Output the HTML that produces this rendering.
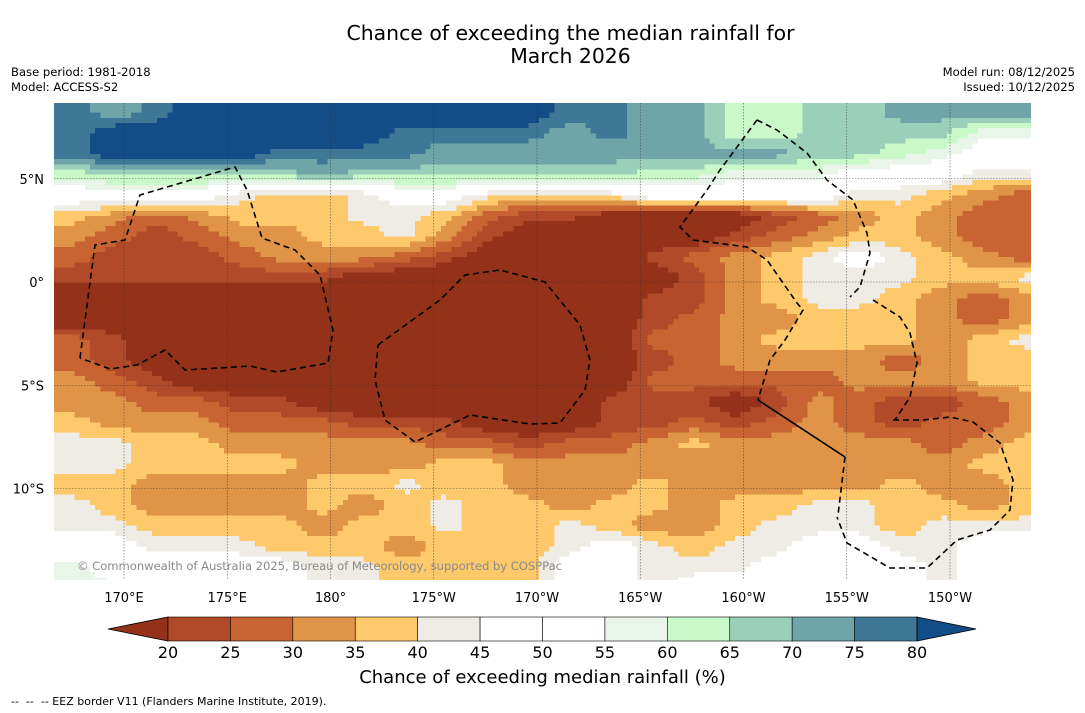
<!DOCTYPE html>
<html><head><meta charset="utf-8">
<style>
html,body{margin:0;padding:0;background:#fff;}
body{width:1085px;height:713px;position:relative;overflow:hidden;font-family:"DejaVu Sans","Liberation Sans",sans-serif;}
.t{position:absolute;color:#000;white-space:nowrap;}
</style></head>
<body>
<div class="t" style="left:0;width:1141px;top:22px;text-align:center;font-size:20.4px;line-height:23px;">Chance of exceeding the median rainfall for<br>March 2026</div>
<div class="t" style="left:11px;top:65px;font-size:11.6px;line-height:15px;">Base period: 1981-2018<br>Model: ACCESS-S2</div>
<div class="t" style="right:10px;top:65px;font-size:11.6px;line-height:15px;text-align:right;">Model run: 08/12/2025<br>Issued: 10/12/2025</div>
<svg id="chart" width="1085" height="713" style="position:absolute;left:0;top:0" xmlns="http://www.w3.org/2000/svg"></svg>
<div class="t" style="left:0;width:1085px;text-align:center;top:667px;font-size:18px;">Chance of exceeding median rainfall (%)</div>
<div class="t" style="left:11px;top:695px;font-size:11px;">--&nbsp; --&nbsp; -- EEZ border V11 (Flanders Marine Institute, 2019).</div>
<script>
// ---- data ----
const lonStart = 166.6;     // west edge of grid (deg E)
const lonStep = 2;          // deg per column
const latStart = 8.7;       // north edge of grid
const latStep = 1;          // deg per row
const lonTicks = [170,175,180,185,190,195,200,205,210];
const lonTickLabels = ["170°E","175°E","180°","175°W","170°W","165°W","160°W","155°W","150°W"];
const latTicks = [5,0,-5,-10];
const latTickLabels = ["5°N","0°","5°S","10°S"];
const levels = [20,25,30,35,40,45,50,55,60,65,70,75,80];
const colors = ["#933119","#b04a28","#c86432","#e09447","#fdc96b","#efebe5","#ffffff","#ffffff","#e9f5e9","#c9f9c9","#9ad0b9","#6fa4a8","#3f7897","#124d87"];
const cbLabels = ["20","25","30","35","40","45","50","55","60","65","70","75","80"];
const r00=[77,72,77,85,85,85,85,85,85,85,85,85,77,77,72,72,62,62,67,67,72,72,72,72];
const r01=[77,85,85,85,85,85,85,85,77,77,77,77,72,77,72,72,62,62,67,67,67,67,57,57];
const r02=[77,85,85,85,85,77,77,77,77,72,72,72,72,72,72,72,72,72,67,67,62,57,50,50];
const r03=[62,67,67,67,67,67,72,67,67,67,67,67,67,67,62,62,57,57,57,50,50,50,42,42];
const r04=[50,50,50,50,42,37,37,42,50,50,42,37,37,42,50,50,50,50,50,42,42,37,32,27];
const r05=[37,32,27,32,37,37,37,42,42,37,27,22,22,15,15,15,15,22,27,32,37,32,27,27];
const r06=[32,27,22,27,32,32,37,37,42,32,22,15,15,15,15,15,22,27,32,37,37,32,27,27];
const r07=[27,22,22,22,27,32,32,32,27,22,15,15,15,15,22,27,32,37,42,50,42,37,32,27];
const r08=[22,22,22,22,22,22,22,15,15,15,15,15,15,15,15,22,32,37,42,42,42,37,37,42];
const r09=[15,15,15,15,15,15,15,15,15,15,15,15,15,15,22,22,32,37,42,42,37,32,27,32];
const r10=[15,15,15,15,15,15,15,15,15,15,15,15,15,15,22,27,32,32,37,37,37,32,27,32];
const r11=[27,22,15,15,15,15,15,15,15,15,15,15,15,15,27,27,32,37,37,37,37,32,37,42];
const r12=[27,22,15,15,15,15,15,15,15,15,15,15,15,15,22,27,32,32,32,32,27,32,37,37];
const r13=[32,27,22,15,15,15,15,15,15,15,15,15,15,15,27,27,27,27,27,32,32,32,37,37];
const r14=[32,32,27,27,22,22,15,15,15,15,15,15,15,22,22,22,15,22,32,27,22,22,27,32];
const r15=[37,32,32,32,27,27,27,22,22,22,15,15,15,22,22,27,22,27,32,27,22,27,27,32];
const r16=[42,42,37,37,32,32,32,32,32,27,27,22,27,27,32,37,32,32,32,32,32,27,32,37];
const r17=[42,42,37,37,37,37,32,32,32,37,37,32,32,32,32,32,32,32,32,32,32,32,37,37];
const r18=[37,37,32,32,32,32,37,37,42,37,37,32,32,32,37,32,32,32,32,32,37,32,32,37];
const r19=[42,37,32,32,32,32,37,32,37,42,37,37,32,37,37,32,37,37,42,42,37,37,32,37];
const r20=[42,42,37,37,37,37,32,37,37,42,37,37,42,37,32,32,37,42,42,42,37,42,42,42];
const r21=[50,50,42,42,42,37,37,37,32,37,37,37,42,50,42,37,42,42,50,50,42,42,50,50];
const r22=[57,50,50,50,50,50,42,42,37,37,37,37,50,50,42,42,42,50,50,50,50,42,50,50];
const r23=[57,57,50,50,50,50,42,42,37,37,37,37,50,50,42,50,50,50,50,50,50,42,50,50];
const grid=[r00,r01,r02,r03,r04,r05,r06,r07,r08,r09,r10,r11,r12,r13,r14,r15,r16,r17,r18,r19,r20,r21,r22,r23];

// ---- axes ----
const NS="http://www.w3.org/2000/svg";
const svg=document.getElementById('chart');
const MAPL=54,MAPR=1031,MAPT=103,MAPB=580;
const pxPerDeg=20.65;
function xScale(lon){return 124+(lon-170)*pxPerDeg;}
function yScale(lat){return 282-lat*pxPerDeg;}
function colorFor(v){let i=0;while(i<levels.length&&v>=levels[i])i++;return colors[i];}
function mk(tag,attrs){const e=document.createElementNS(NS,tag);for(const k in attrs)e.setAttribute(k,attrs[k]);return e;}
// bilinear sample of grid at fractional (row, col) cell-centre coordinates
function sample(fr,fc){
  const R=grid.length,C=grid[0].length;
  fr=Math.max(0,Math.min(R-1,fr));fc=Math.max(0,Math.min(C-1,fc));
  const r0=Math.floor(fr),c0=Math.floor(fc),r1=Math.min(R-1,r0+1),c1=Math.min(C-1,c0+1);
  const a=fr-r0,b=fc-c0;
  return (grid[r0][c0]*(1-b)+grid[r0][c1]*b)*(1-a)+(grid[r1][c0]*(1-b)+grid[r1][c1]*b)*a;
}

const defs=mk('defs',{});
const cp=mk('clipPath',{id:'mapclip'});
cp.appendChild(mk('rect',{x:MAPL,y:MAPT,width:MAPR-MAPL,height:MAPB-MAPT}));
defs.appendChild(cp);svg.appendChild(defs);

const cells=mk('g',{'clip-path':'url(#mapclip)','shape-rendering':'crispEdges'});


svg.appendChild(cells);
const SUBC=8,SUBR=4;
for(let j=0;j<grid.length*SUBR;j++){
  for(let i=0;i<grid[0].length*SUBC;i++){
    const fr=(j+0.5)/SUBR-0.5, fc=(i+0.5)/SUBC-0.5;
    const v=sample(fr,fc);
    const lon0=lonStart+i*lonStep/SUBC, lat0=latStart-j*latStep/SUBR;
    const x0=xScale(lon0), x1=xScale(lon0+lonStep/SUBC);
    const y0=yScale(lat0), y1=yScale(lat0-latStep/SUBR);
    const r=mk('rect',{x:x0.toFixed(1),y:y0.toFixed(1),width:(x1-x0+0.8).toFixed(1),height:(y1-y0+0.8).toFixed(1),fill:colorFor(v)});
    
    
    cells.appendChild(r);
  }
}

// gridlines
const gl=mk('g',{stroke:'#333','stroke-width':0.6,'stroke-dasharray':'1.5,1.5',opacity:0.8});


svg.appendChild(gl);
lonTicks.forEach((lon,k)=>{
  const x=xScale(lon);
  gl.appendChild(mk('line',{x1:x,x2:x,y1:MAPT,y2:MAPB}));
  const t=mk('text',{x:x,y:602,'text-anchor':'middle','font-size':13,fill:'#000'});
  t.textContent=lonTickLabels[k];
  
  
  svg.appendChild(t);
});
latTicks.forEach((lat,k)=>{
  const y=yScale(lat);
  gl.appendChild(mk('line',{x1:MAPL,x2:MAPR,y1:y,y2:y}));
  const t=mk('text',{x:44,y:y+5,'text-anchor':'end','font-size':13,fill:'#000'});
  t.textContent=latTickLabels[k];
  
  
  svg.appendChild(t);
});

// EEZ borders (geographic outlines, pixel coords)
const eez=[
 [[80,358],[95,245],[125,240],[140,195],[235,167],[247,190],[262,238],[295,250],[320,275],[333,330],[328,363],[277,372],[250,366],[185,370],[165,350],[137,365],[110,369],[80,358]],
 [[378,345],[440,300],[465,275],[500,270],[545,282],[580,325],[590,360],[585,390],[560,423],[530,424],[470,415],[415,442],[385,420],[375,380],[378,345]],
 [[757,120],[777,130],[807,153],[827,180],[853,200],[867,233],[870,253],[860,287],[850,297]],
 [[873,300],[900,317],[910,333],[917,363],[910,397],[895,420]],
 [[757,120],[740,143],[720,170],[707,190],[680,227],[693,240],[747,247],[767,260],[797,303],[803,310],[785,340],[770,360],[758,400]],
 [[845,457],[838,515]],
 [[893,420],[923,420],[950,417],[973,422],[1000,443],[1013,480],[1010,510],[990,530],[957,540],[927,568],[890,568],[847,543],[837,517]]
];
const eg=mk('g',{fill:'none',stroke:'#000','stroke-width':1.6,'stroke-dasharray':'6,4'});


svg.appendChild(eg);
eez.forEach(p=>{eg.appendChild(mk('polyline',{points:p.map(q=>q.join(',')).join(' ')}));});
const solid=mk('polyline',{points:'758,400 845,457',fill:'none',stroke:'#000','stroke-width':1.6});


svg.appendChild(solid);

const cr=mk('text',{x:77,y:570,'font-size':11.6,fill:'#8a8a8a',textLength:485});
cr.textContent='© Commonwealth of Australia 2025, Bureau of Meteorology, supported by COSPPac';


svg.appendChild(cr);

// colorbar
const cbL=168,cbR=917,cbT=617,cbB=641;
const bw=(cbR-cbL)/(levels.length-1);
const cb=mk('g',{});


svg.appendChild(cb);
const lt=mk('polygon',{points:`108,629 ${cbL},${cbT} ${cbL},${cbB}`,fill:colors[0],stroke:'#000','stroke-width':0.8});


cb.appendChild(lt);
for(let i=0;i<levels.length-1;i++){
  const r=mk('rect',{x:cbL+i*bw,y:cbT,width:bw,height:cbB-cbT,fill:colors[i+1],stroke:'#000','stroke-width':0.6});
  
  
  cb.appendChild(r);
}
const rt=mk('polygon',{points:`${cbR},${cbT} 976,629 ${cbR},${cbB}`,fill:colors[colors.length-1],stroke:'#000','stroke-width':0.8});


cb.appendChild(rt);
cbLabels.forEach((s,i)=>{
  const t=mk('text',{x:cbL+i*bw,y:658,'text-anchor':'middle','font-size':16,fill:'#000'});
  t.textContent=s;
  
  
  cb.appendChild(t);
});
</script>
</body></html>
